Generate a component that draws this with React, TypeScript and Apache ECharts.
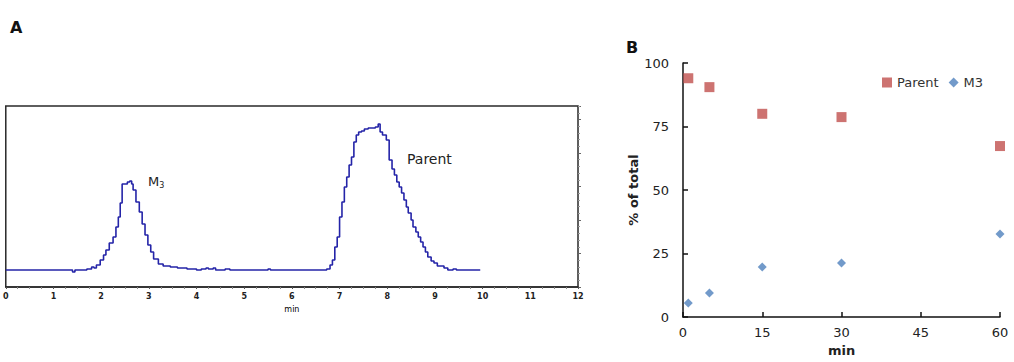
import React, { useEffect, useRef } from "react";
import * as echarts from "echarts";

// Panel A: chromatogram (time in min, detector response in arbitrary units)
const traceTime = [
  0, 1.4, 1.45, 1.7, 1.8, 1.85, 1.9, 1.98, 2.05, 2.1, 2.17, 2.25, 2.31, 2.36, 2.4,
  2.44, 2.55, 2.6, 2.64, 2.67, 2.73, 2.8, 2.86, 2.92, 2.98, 3.04, 3.1, 3.2, 3.3,
  3.45, 3.6, 3.8, 4.0, 4.1, 4.2, 4.25, 4.35, 4.4, 4.6, 4.7, 5.5, 5.55, 6.73, 6.8,
  6.85, 6.9, 6.95, 7.0, 7.05, 7.1, 7.15, 7.2, 7.25, 7.3, 7.35, 7.4, 7.46, 7.52,
  7.6, 7.67, 7.75, 7.81, 7.85, 7.9, 7.98, 8.04, 8.1, 8.15, 8.2, 8.25, 8.3, 8.35,
  8.4, 8.44, 8.5, 8.54, 8.6, 8.65, 8.7, 8.75, 8.8, 8.85, 8.92, 8.98, 9.05, 9.19,
  9.27, 9.38, 9.45, 9.95,
];
const traceIntensity = [
  17, 15, 17, 18, 20, 19, 22, 27, 32, 37, 44, 50, 60, 70, 84,
  103, 105, 106, 103, 97, 85, 75, 63, 52, 42, 35, 28, 23, 21,
  20, 19, 18, 17, 18, 19, 18, 19, 17, 18, 17, 18, 17, 18, 22,
  27, 40, 50, 70, 85, 100, 110, 122, 130, 145, 152, 155, 156, 158,
  159, 159, 160, 163, 155, 152, 147, 127, 118, 112, 105, 100, 94, 87,
  80, 74, 67, 60, 55, 50, 45, 40, 35, 30, 26, 24, 21, 19,
  17, 18, 17, 17,
];

// Panel B: % of total over time
const incubationMin = [1, 5, 15, 30, 60];
const parentPct = [94, 90.5, 80, 78.7, 67.3];
const m3Pct = [5.5, 9.4, 19.7, 21.3, 32.7];

const timeTicksA = { min: 0, max: 12, interval: 1 };
const pctTicks = { min: 0, max: 100, interval: 25 };
const minTicks = { min: 0, max: 60, interval: 15 };

const FONT = "DejaVu Sans";

export default function App() {
  const ref = useRef<HTMLDivElement>(null);
  useEffect(() => {
    if (!ref.current) return;
    const chart = echarts.init(ref.current, undefined, { renderer: "svg" });
    const trace = traceTime.map((t, i) => [t, traceIntensity[i]]);
    chart.setOption({
      animation: false,
      backgroundColor: "#ffffff",
      textStyle: { fontFamily: FONT },
      grid: [
        {
          left: 2, top: 106, width: 576, height: 181,
          show: true, borderColor: "#2a2a2a", borderWidth: 1.5,
        },
        { left: 683, top: 63, width: 317, height: 254 },
      ],
      legend: {
        left: 877, top: 71, itemWidth: 10, itemHeight: 10, itemGap: 10,
        textStyle: { fontSize: 13, color: "#333", fontFamily: FONT },
        data: [
          { name: "Parent", icon: "rect" },
          { name: "M3", icon: "diamond" },
        ],
      },
      xAxis: [
        {
          gridIndex: 0, type: "value", ...timeTicksA,
          name: "min", nameLocation: "middle", nameGap: 18,
          nameTextStyle: { fontSize: 8, color: "#000000", fontFamily: FONT },
          axisLine: { show: true, lineStyle: { color: "#2a2a2a", width: 1.5 } },
          axisTick: { show: true, length: 2, lineStyle: { color: "#555" } },
          minorTick: { show: true, splitNumber: 4, length: 2, lineStyle: { color: "#888" } },
          axisLabel: { fontSize: 8, fontWeight: "bold", color: "#222", margin: 5 },
          splitLine: { show: false },
        },
        {
          gridIndex: 1, type: "value", ...minTicks,
          name: "min", nameLocation: "middle", nameGap: 26,
          nameTextStyle: { fontSize: 13, fontWeight: "bold", color: "#222" },
          axisLine: { show: true, lineStyle: { color: "#111", width: 1.5 } },
          axisTick: { show: true, inside: true, length: 5, lineStyle: { color: "#111", width: 1.5 } },
          axisLabel: { fontSize: 13, color: "#222", margin: 9 },
          splitLine: { show: false },
        },
      ],
      yAxis: [
        {
          gridIndex: 0, type: "value", min: 0, max: 181,
          axisLine: { show: false }, axisTick: { show: false },
          axisLabel: { show: false }, splitLine: { show: false },
        },
        {
          gridIndex: 0, type: "value", position: "right", min: 0, max: 181, interval: 33.5,
          axisLine: { show: false },
          axisTick: { show: true, length: 3, lineStyle: { color: "#666" } },
          minorTick: { show: true, splitNumber: 5, length: 2, lineStyle: { color: "#999" } },
          axisLabel: { show: false }, splitLine: { show: false },
        },
        {
          gridIndex: 1, type: "value", ...pctTicks,
          name: "% of total", nameLocation: "middle", nameGap: 40,
          nameTextStyle: { fontSize: 13, fontWeight: "bold", color: "#222" },
          axisLine: { show: true, lineStyle: { color: "#111", width: 1.5 } },
          axisTick: { show: true, inside: true, length: 5, lineStyle: { color: "#111", width: 1.5 } },
          axisLabel: { fontSize: 13, color: "#222", margin: 14 },
          splitLine: { show: false },
        },
      ],
      series: [
        {
          name: "chromatogram", type: "line", xAxisIndex: 0, yAxisIndex: 0,
          data: trace, step: "end", showSymbol: false, symbol: "none",
          lineStyle: { color: "#2424a8", width: 1.6 },
        },
        {
          name: "Parent", type: "scatter", xAxisIndex: 1, yAxisIndex: 2,
          data: incubationMin.map((t, i) => [t, parentPct[i]]),
          symbol: "rect", symbolSize: 10,
          itemStyle: { color: "#C0504D" },
        },
        {
          name: "M3", type: "scatter", xAxisIndex: 1, yAxisIndex: 2,
          data: incubationMin.map((t, i) => [t, m3Pct[i]]),
          symbol: "diamond", symbolSize: 9,
          itemStyle: { color: "#4F81BD" },
        },
      ],
      graphic: [
        {
          type: "text", left: 10, top: 19,
          style: { text: "A", fontSize: 16, fontWeight: "bold", fill: "#111", fontFamily: FONT },
        },
        {
          type: "text", left: 626, top: 39,
          style: { text: "B", fontSize: 16, fontWeight: "bold", fill: "#111", fontFamily: FONT },
        },
        {
          type: "text", left: 148, top: 175,
          style: {
            text: "{m|M}{s|3}",
            fill: "#222",
            rich: {
              m: { fontSize: 13, fontFamily: FONT, fill: "#222" },
              s: { fontSize: 8, fontFamily: FONT, fill: "#222", padding: [8, 0, 0, 0] },
            },
          },
        },
        {
          type: "text", left: 407, top: 152,
          style: { text: "Parent", fontSize: 14, fill: "#222", fontFamily: FONT },
        },
      ],
    });
    return () => chart.dispose();
  }, []);
  return (
    <div
      ref={ref}
      style={{ position: "absolute", left: 0, top: 0, width: 1014, height: 362 }}
    />
  );
}
